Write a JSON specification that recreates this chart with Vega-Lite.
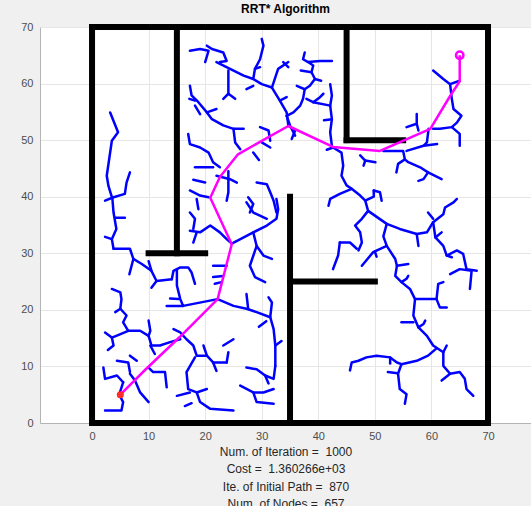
{
  "$schema": "https://vega.github.io/schema/vega-lite/v6.json",
  "width": 491,
  "height": 396,
  "autosize": {"type": "none"},
  "padding": {"left": 40, "top": 27, "right": 0, "bottom": 83},
  "background": "#f0f0f0",
  "view": {"fill": "white", "stroke": null},
  "title": {"text": "RRT* Algorithm", "fontSize": 12, "fontWeight": "bold", "font": "Liberation Sans", "color": "black", "offset": 5},
  "config": {
    "axis": {"labelFont": "Liberation Sans", "labelFontSize": 11, "labelColor": "#4d4d4d", "grid": true, "gridColor": "#e6e6e6", "domainColor": "#b4b4b4", "ticks": false, "labelPadding": 7, "titleFont": "Liberation Sans"}
  },
  "datasets": {
    "walls": [
      {"x": 0, "y": 0, "x2": 70, "y2": 0},
      {"x": 0, "y": 0, "x2": 0, "y2": 70},
      {"x": 0, "y": 70, "x2": 70, "y2": 70},
      {"x": 70, "y": 0, "x2": 70, "y2": 70},
      {"x": 15, "y": 30, "x2": 15, "y2": 70},
      {"x": 10, "y": 30, "x2": 20, "y2": 30},
      {"x": 45, "y": 50, "x2": 45, "y2": 70},
      {"x": 45, "y": 50, "x2": 55, "y2": 50},
      {"x": 35, "y": 0, "x2": 35, "y2": 40},
      {"x": 35, "y": 25, "x2": 50, "y2": 25}
    ],
    "path": [
      {"i": 0, "x": 5, "y": 5}, {"i": 1, "x": 9.5, "y": 9.5}, {"i": 2, "x": 15.5, "y": 15.2}, {"i": 3, "x": 22.2, "y": 21.9},
      {"i": 4, "x": 24.7, "y": 31.6}, {"i": 5, "x": 20.9, "y": 39.8}, {"i": 6, "x": 22.6, "y": 43.5}, {"i": 7, "x": 25.8, "y": 47.5},
      {"i": 8, "x": 34.7, "y": 52.5}, {"i": 9, "x": 42.6, "y": 48.8}, {"i": 10, "x": 50.9, "y": 48.1}, {"i": 11, "x": 59.8, "y": 52},
      {"i": 12, "x": 63.3, "y": 57.8}, {"i": 13, "x": 65, "y": 60.4}, {"i": 14, "x": 65, "y": 65}
    ],
    "ends": [
      {"x": 5, "y": 5, "kind": "start"},
      {"x": 65, "y": 65, "kind": "goal"}
    ],
    "tree": [
      {"b":1,"i":0,"x":3.2,"y":54.9},{"b":1,"i":1,"x":4.6,"y":51.4},{"b":1,"i":2,"x":3.5,"y":49.9},{"b":1,"i":3,"x":2.6,"y":43.7},{"b":1,"i":4,"x":2.9,"y":41.9},{"b":1,"i":5,"x":3.6,"y":39.6},{"b":1,"i":6,"x":3.8,"y":37.2},{"b":1,"i":7,"x":4.3,"y":34.3},{"b":1,"i":8,"x":3.5,"y":32.5},{"b":1,"i":9,"x":3.8,"y":30.8},
      {"b":2,"i":0,"x":2.3,"y":39.3},{"b":2,"i":1,"x":3.8,"y":39.9},{"b":2,"i":2,"x":5.8,"y":40.5},{"b":2,"i":3,"x":6.1,"y":42.5},{"b":2,"i":4,"x":6.7,"y":44.3},
      {"b":3,"i":0,"x":4.1,"y":36.3},{"b":3,"i":1,"x":5.8,"y":36.3},
      {"b":4,"i":0,"x":2.3,"y":32.9},{"b":4,"i":1,"x":3.5,"y":32.5},
      {"b":5,"i":0,"x":3.8,"y":30.8},{"b":5,"i":1,"x":6.7,"y":30.8},{"b":5,"i":2,"x":7.3,"y":29.0},{"b":5,"i":3,"x":8.8,"y":28.1},{"b":5,"i":4,"x":10.5,"y":26.9},{"b":5,"i":5,"x":11.4,"y":25.1},{"b":5,"i":6,"x":14.1,"y":25.4},
      {"b":6,"i":0,"x":7.3,"y":29.0},{"b":6,"i":1,"x":6.6,"y":26.3},
      {"b":7,"i":0,"x":10.5,"y":26.9},{"b":7,"i":1,"x":10.0,"y":28.6},
      {"b":8,"i":0,"x":11.4,"y":25.1},{"b":8,"i":1,"x":10.5,"y":23.9},
      {"b":9,"i":0,"x":14.1,"y":25.4},{"b":9,"i":1,"x":14.4,"y":26.9},{"b":9,"i":2,"x":15.6,"y":27.5},{"b":9,"i":3,"x":17.0,"y":27.5},{"b":9,"i":4,"x":17.6,"y":26.6},{"b":9,"i":5,"x":18.2,"y":24.6},
      {"b":10,"i":0,"x":15.0,"y":27.2},{"b":10,"i":1,"x":15.0,"y":24.3},{"b":10,"i":2,"x":15.6,"y":21.9},{"b":10,"i":3,"x":16.1,"y":20.7},{"b":10,"i":4,"x":22.2,"y":21.9},
      {"b":11,"i":0,"x":13.2,"y":20.7},{"b":11,"i":1,"x":16.1,"y":20.7},
      {"b":12,"i":0,"x":13.8,"y":22.0},{"b":12,"i":1,"x":15.3,"y":21.9},
      {"b":13,"i":0,"x":22.2,"y":21.9},{"b":13,"i":1,"x":25.0,"y":20.7},{"b":13,"i":2,"x":27.3,"y":20.2},{"b":13,"i":3,"x":29.1,"y":19.6},{"b":13,"i":4,"x":31.5,"y":18.7},{"b":13,"i":5,"x":32.1,"y":16.6},{"b":13,"i":6,"x":32.4,"y":13.7},{"b":13,"i":7,"x":32.4,"y":10.1},
      {"b":14,"i":0,"x":31.5,"y":18.7},{"b":14,"i":1,"x":31.8,"y":21.3},{"b":14,"i":2,"x":31.2,"y":22.2},
      {"b":15,"i":0,"x":27.3,"y":22.8},{"b":15,"i":1,"x":27.6,"y":20.2},
      {"b":16,"i":0,"x":29.5,"y":17.0},{"b":16,"i":1,"x":30.8,"y":18.0},
      {"b":17,"i":0,"x":32.4,"y":13.7},{"b":17,"i":1,"x":33.5,"y":14.5},
      {"b":18,"i":0,"x":17.3,"y":34.0},{"b":18,"i":1,"x":19.1,"y":33.7},{"b":18,"i":2,"x":20.9,"y":34.9},{"b":18,"i":3,"x":22.6,"y":33.7},{"b":18,"i":4,"x":23.8,"y":32.5},{"b":18,"i":5,"x":24.7,"y":31.7},
      {"b":19,"i":0,"x":17.9,"y":31.9},{"b":19,"i":1,"x":18.5,"y":33.7},
      {"b":20,"i":0,"x":24.7,"y":31.7},{"b":20,"i":1,"x":28.5,"y":33.7},{"b":20,"i":2,"x":30.9,"y":34.9},{"b":20,"i":3,"x":32.6,"y":36.1},{"b":20,"i":4,"x":32.9,"y":37.8},{"b":20,"i":5,"x":32.6,"y":39.6},
      {"b":21,"i":0,"x":28.5,"y":33.7},{"b":21,"i":1,"x":29.1,"y":31.3},{"b":21,"i":2,"x":30.3,"y":29.6},{"b":21,"i":3,"x":31.8,"y":29.0},
      {"b":22,"i":0,"x":29.1,"y":31.3},{"b":22,"i":1,"x":27.9,"y":27.8},{"b":22,"i":2,"x":28.8,"y":25.8},{"b":22,"i":3,"x":30.6,"y":24.9},
      {"b":23,"i":0,"x":27.3,"y":39.0},{"b":23,"i":1,"x":28.5,"y":37.2},{"b":23,"i":2,"x":30.9,"y":36.1},
      {"b":24,"i":0,"x":21.4,"y":27.8},{"b":24,"i":1,"x":23.8,"y":27.8},
      {"b":25,"i":0,"x":21.4,"y":25.8},{"b":25,"i":1,"x":23.2,"y":26.0},
      {"b":26,"i":0,"x":21.7,"y":24.6},{"b":26,"i":1,"x":22.9,"y":24.9},
      {"b":27,"i":0,"x":17.3,"y":37.2},{"b":27,"i":1,"x":18.2,"y":36.1},{"b":27,"i":2,"x":17.9,"y":34.3},
      {"b":28,"i":0,"x":18.5,"y":39.6},{"b":28,"i":1,"x":18.8,"y":37.8},
      {"b":29,"i":0,"x":2.0,"y":9.8},{"b":29,"i":1,"x":2.3,"y":7.8},{"b":29,"i":2,"x":4.4,"y":8.4},{"b":29,"i":3,"x":5.5,"y":7.2},
      {"b":30,"i":0,"x":4.4,"y":11.0},{"b":30,"i":1,"x":6.4,"y":10.7},{"b":30,"i":2,"x":6.7,"y":9.0},
      {"b":31,"i":0,"x":5.5,"y":7.2},{"b":31,"i":1,"x":4.8,"y":5.0},{"b":31,"i":2,"x":5.5,"y":3.7},{"b":31,"i":3,"x":5.2,"y":2.2},{"b":31,"i":4,"x":2.3,"y":2.2},
      {"b":32,"i":0,"x":6.7,"y":8.7},{"b":32,"i":1,"x":7.6,"y":7.5},{"b":32,"i":2,"x":8.5,"y":5.4},{"b":32,"i":3,"x":10.0,"y":3.7},
      {"b":33,"i":0,"x":10.0,"y":9.8},{"b":33,"i":1,"x":10.8,"y":9.0},{"b":33,"i":2,"x":12.9,"y":9.0},{"b":33,"i":3,"x":13.2,"y":6.3},
      {"b":34,"i":0,"x":6.7,"y":11.9},{"b":34,"i":1,"x":7.9,"y":11.0},
      {"b":35,"i":0,"x":10.3,"y":13.7},{"b":35,"i":1,"x":11.1,"y":12.2},
      {"b":36,"i":0,"x":3.5,"y":23.7},{"b":36,"i":1,"x":5.0,"y":23.1},{"b":36,"i":2,"x":5.2,"y":21.9},{"b":36,"i":3,"x":5.0,"y":20.2},{"b":36,"i":4,"x":4.1,"y":19.6},
      {"b":37,"i":0,"x":5.0,"y":20.2},{"b":37,"i":1,"x":6.1,"y":19.0},{"b":37,"i":2,"x":5.5,"y":17.8},{"b":37,"i":3,"x":6.4,"y":16.3},{"b":37,"i":4,"x":8.5,"y":16.3},{"b":37,"i":5,"x":10.0,"y":15.4},{"b":37,"i":6,"x":10.5,"y":13.7},{"b":37,"i":7,"x":12.0,"y":13.7},{"b":37,"i":8,"x":13.8,"y":14.3},{"b":37,"i":9,"x":15.6,"y":14.8},
      {"b":38,"i":0,"x":6.4,"y":16.3},{"b":38,"i":1,"x":4.5,"y":15.5},{"b":38,"i":2,"x":3.5,"y":15.1},{"b":38,"i":3,"x":2.3,"y":16.0},
      {"b":39,"i":0,"x":3.5,"y":15.1},{"b":39,"i":1,"x":3.8,"y":13.7},{"b":39,"i":2,"x":2.8,"y":12.9},
      {"b":40,"i":0,"x":10.0,"y":18.1},{"b":40,"i":1,"x":10.3,"y":16.3},{"b":40,"i":2,"x":10.0,"y":15.4},
      {"b":42,"i":0,"x":14.4,"y":16.6},{"b":42,"i":1,"x":15.6,"y":16.0},{"b":42,"i":2,"x":16.7,"y":14.8},{"b":42,"i":3,"x":17.9,"y":13.7},{"b":42,"i":4,"x":18.5,"y":11.9},{"b":42,"i":5,"x":20.3,"y":11.9},{"b":42,"i":6,"x":21.4,"y":10.7},{"b":42,"i":7,"x":23.8,"y":10.7},
      {"b":43,"i":0,"x":19.7,"y":13.7},{"b":43,"i":1,"x":20.3,"y":11.9},
      {"b":44,"i":0,"x":18.2,"y":11.6},{"b":44,"i":1,"x":16.7,"y":9.0},{"b":44,"i":2,"x":17.0,"y":6.0},{"b":44,"i":3,"x":18.5,"y":5.4},{"b":44,"i":4,"x":20.3,"y":6.0},
      {"b":45,"i":0,"x":15.0,"y":4.8},{"b":45,"i":1,"x":17.3,"y":5.4},
      {"b":46,"i":0,"x":18.5,"y":5.4},{"b":46,"i":1,"x":19.1,"y":3.7},{"b":46,"i":2,"x":20.9,"y":2.5},{"b":46,"i":3,"x":25.0,"y":2.2},
      {"b":47,"i":0,"x":16.4,"y":3.0},{"b":47,"i":1,"x":17.6,"y":3.5},
      {"b":48,"i":0,"x":23.2,"y":13.7},{"b":48,"i":1,"x":25.0,"y":14.8},
      {"b":49,"i":0,"x":23.8,"y":10.7},{"b":49,"i":1,"x":24.1,"y":12.5},
      {"b":50,"i":0,"x":21.4,"y":10.7},{"b":50,"i":1,"x":22.0,"y":9.2},
      {"b":51,"i":0,"x":27.3,"y":9.8},{"b":51,"i":1,"x":29.1,"y":9.5},{"b":51,"i":2,"x":30.6,"y":8.4},{"b":51,"i":3,"x":32.1,"y":7.8},{"b":51,"i":4,"x":32.4,"y":10.1},
      {"b":52,"i":0,"x":26.2,"y":6.6},{"b":52,"i":1,"x":28.5,"y":5.4},{"b":52,"i":2,"x":30.3,"y":5.4},{"b":52,"i":3,"x":32.1,"y":6.0},
      {"b":53,"i":0,"x":28.5,"y":5.4},{"b":53,"i":1,"x":29.1,"y":3.7},{"b":53,"i":2,"x":32.1,"y":3.4},
      {"b":54,"i":0,"x":30.6,"y":8.4},{"b":54,"i":1,"x":31.2,"y":7.0},
      {"b":60,"i":0,"x":17.3,"y":65.8},{"b":60,"i":1,"x":19.1,"y":66.1},{"b":60,"i":2,"x":20.6,"y":65.8},{"b":60,"i":3,"x":20.0,"y":63.8},
      {"b":61,"i":0,"x":20.3,"y":66.7},{"b":61,"i":1,"x":21.2,"y":66.1},{"b":61,"i":2,"x":23.2,"y":65.5},{"b":61,"i":3,"x":23.8,"y":64.0},{"b":61,"i":4,"x":22.6,"y":63.8},
      {"b":62,"i":0,"x":22.0,"y":63.8},{"b":62,"i":1,"x":24.4,"y":62.6},{"b":62,"i":2,"x":26.8,"y":61.4},{"b":62,"i":3,"x":28.5,"y":60.8},{"b":62,"i":4,"x":30.0,"y":59.9},{"b":62,"i":5,"x":31.8,"y":59.3},{"b":62,"i":6,"x":33.2,"y":57.0},{"b":62,"i":7,"x":34.4,"y":54.9},{"b":62,"i":8,"x":34.7,"y":52.6},
      {"b":63,"i":0,"x":24.1,"y":62.3},{"b":63,"i":1,"x":24.1,"y":58.2},{"b":63,"i":2,"x":23.2,"y":57.3},
      {"b":64,"i":0,"x":24.1,"y":58.2},{"b":64,"i":1,"x":25.3,"y":57.3},
      {"b":65,"i":0,"x":28.5,"y":60.8},{"b":65,"i":1,"x":28.8,"y":62.6},{"b":65,"i":2,"x":29.7,"y":64.3},{"b":65,"i":3,"x":30.3,"y":66.7},{"b":65,"i":4,"x":30.0,"y":67.9},
      {"b":66,"i":0,"x":27.3,"y":59.0},{"b":66,"i":1,"x":28.5,"y":59.6},
      {"b":67,"i":0,"x":31.8,"y":59.3},{"b":67,"i":1,"x":32.6,"y":61.7},{"b":67,"i":2,"x":32.9,"y":62.6},{"b":67,"i":3,"x":34.7,"y":63.8},
      {"b":68,"i":0,"x":33.2,"y":57.0},{"b":68,"i":1,"x":34.4,"y":57.6},
      {"b":69,"i":0,"x":28.8,"y":62.6},{"b":69,"i":1,"x":29.7,"y":62.9},
      {"b":70,"i":0,"x":17.3,"y":59.6},{"b":70,"i":1,"x":17.6,"y":57.9},{"b":70,"i":2,"x":18.8,"y":56.7},{"b":70,"i":3,"x":20.3,"y":54.9},{"b":70,"i":4,"x":21.2,"y":53.7},{"b":70,"i":5,"x":23.2,"y":52.6},{"b":70,"i":6,"x":25.0,"y":52.0},{"b":70,"i":7,"x":26.8,"y":52.0},
      {"b":71,"i":0,"x":18.2,"y":56.1},{"b":71,"i":1,"x":19.1,"y":54.6},
      {"b":72,"i":0,"x":17.2,"y":57.3},{"b":72,"i":1,"x":18.2,"y":57.0},
      {"b":73,"i":0,"x":20.3,"y":54.9},{"b":73,"i":1,"x":22.0,"y":55.5},
      {"b":74,"i":0,"x":25.0,"y":52.0},{"b":74,"i":1,"x":25.3,"y":49.6},{"b":74,"i":2,"x":26.2,"y":48.4},
      {"b":75,"i":0,"x":17.0,"y":51.1},{"b":75,"i":1,"x":17.3,"y":49.3},{"b":75,"i":2,"x":19.1,"y":48.7},{"b":75,"i":3,"x":20.6,"y":47.8},{"b":75,"i":4,"x":21.4,"y":46.1},{"b":75,"i":5,"x":22.6,"y":45.2},
      {"b":76,"i":0,"x":18.2,"y":45.2},{"b":76,"i":1,"x":21.4,"y":45.2},
      {"b":77,"i":0,"x":17.3,"y":41.1},{"b":77,"i":1,"x":19.1,"y":40.2},{"b":77,"i":2,"x":20.6,"y":39.9},
      {"b":78,"i":0,"x":22.0,"y":43.7},{"b":78,"i":1,"x":24.4,"y":43.1},{"b":78,"i":2,"x":25.6,"y":42.5},
      {"b":79,"i":0,"x":24.1,"y":44.5},{"b":79,"i":1,"x":24.1,"y":40.8},{"b":79,"i":2,"x":23.8,"y":39.3},
      {"b":80,"i":0,"x":29.1,"y":42.5},{"b":80,"i":1,"x":30.9,"y":42.2},{"b":80,"i":2,"x":31.5,"y":40.8},{"b":80,"i":3,"x":32.1,"y":39.3},{"b":80,"i":4,"x":32.6,"y":37.2},
      {"b":81,"i":0,"x":27.6,"y":39.9},{"b":81,"i":1,"x":28.5,"y":38.7},{"b":81,"i":2,"x":27.9,"y":37.2},
      {"b":82,"i":0,"x":29.7,"y":52.3},{"b":82,"i":1,"x":31.2,"y":51.7},{"b":82,"i":2,"x":31.5,"y":49.9},
      {"b":83,"i":0,"x":30.0,"y":49.6},{"b":83,"i":1,"x":31.5,"y":48.7},
      {"b":84,"i":0,"x":34.7,"y":52.6},{"b":84,"i":1,"x":35.9,"y":51.7},{"b":84,"i":2,"x":35.3,"y":50.2},
      {"b":85,"i":0,"x":28.5,"y":47.8},{"b":85,"i":1,"x":29.5,"y":46.5},
      {"b":87,"i":0,"x":17.9,"y":43.0},{"b":87,"i":1,"x":20.0,"y":42.5},
      {"b":90,"i":0,"x":37.6,"y":65.5},{"b":90,"i":1,"x":37.3,"y":64.3},{"b":90,"i":2,"x":38.2,"y":63.8},{"b":90,"i":3,"x":39.1,"y":63.2},{"b":90,"i":4,"x":38.8,"y":62.0},{"b":90,"i":5,"x":39.4,"y":60.8},{"b":90,"i":6,"x":38.5,"y":59.6},{"b":90,"i":7,"x":37.6,"y":59.0},{"b":90,"i":8,"x":37.3,"y":57.3},{"b":90,"i":9,"x":36.8,"y":56.1},{"b":90,"i":10,"x":35.6,"y":54.9},{"b":90,"i":11,"x":34.4,"y":54.3},
      {"b":91,"i":0,"x":38.2,"y":63.8},{"b":91,"i":1,"x":40.3,"y":64.0},{"b":91,"i":2,"x":42.4,"y":64.0},
      {"b":92,"i":0,"x":36.9,"y":62.3},{"b":92,"i":1,"x":38.8,"y":62.0},
      {"b":93,"i":0,"x":39.4,"y":60.8},{"b":93,"i":1,"x":40.5,"y":60.5},
      {"b":94,"i":0,"x":36.2,"y":59.6},{"b":94,"i":1,"x":37.6,"y":59.0},
      {"b":95,"i":0,"x":37.9,"y":57.3},{"b":95,"i":1,"x":39.1,"y":56.7},{"b":95,"i":2,"x":42.1,"y":56.1},
      {"b":96,"i":0,"x":39.1,"y":56.7},{"b":96,"i":1,"x":40.3,"y":57.6},{"b":96,"i":2,"x":40.9,"y":58.2},
      {"b":97,"i":0,"x":42.1,"y":59.9},{"b":97,"i":1,"x":42.4,"y":57.9},{"b":97,"i":2,"x":42.1,"y":56.1},{"b":97,"i":3,"x":42.4,"y":53.7},{"b":97,"i":4,"x":42.1,"y":51.4},{"b":97,"i":5,"x":42.4,"y":49.0},
      {"b":98,"i":0,"x":34.4,"y":54.3},{"b":98,"i":1,"x":35.0,"y":52.6},{"b":98,"i":2,"x":35.9,"y":50.8},
      {"b":99,"i":0,"x":33.8,"y":63.8},{"b":99,"i":1,"x":34.7,"y":62.9},
      {"b":101,"i":0,"x":41.0,"y":53.5},{"b":101,"i":1,"x":42.4,"y":53.7},
      {"b":102,"i":0,"x":42.6,"y":48.7},{"b":102,"i":1,"x":44.1,"y":47.8},{"b":102,"i":2,"x":44.4,"y":45.5},{"b":102,"i":3,"x":44.1,"y":43.7},{"b":102,"i":4,"x":45.0,"y":42.0},{"b":102,"i":5,"x":45.9,"y":41.4},{"b":102,"i":6,"x":47.4,"y":40.2},{"b":102,"i":7,"x":48.3,"y":39.3},{"b":102,"i":8,"x":48.8,"y":37.5},{"b":102,"i":9,"x":47.7,"y":36.1},{"b":102,"i":10,"x":46.5,"y":34.9},{"b":102,"i":11,"x":47.4,"y":33.7},{"b":102,"i":12,"x":47.7,"y":31.9},{"b":102,"i":13,"x":47.1,"y":30.5},
      {"b":103,"i":0,"x":45.9,"y":41.4},{"b":103,"i":1,"x":43.8,"y":40.5},{"b":103,"i":2,"x":42.1,"y":39.6},{"b":103,"i":3,"x":41.8,"y":38.4},
      {"b":104,"i":0,"x":47.4,"y":47.3},{"b":104,"i":1,"x":48.3,"y":46.4},{"b":104,"i":2,"x":50.1,"y":46.1},
      {"b":105,"i":0,"x":48.3,"y":46.4},{"b":105,"i":1,"x":48.0,"y":45.5},
      {"b":106,"i":0,"x":49.8,"y":41.1},{"b":106,"i":1,"x":50.9,"y":40.8},{"b":106,"i":2,"x":51.2,"y":39.3},
      {"b":107,"i":0,"x":48.3,"y":39.3},{"b":107,"i":1,"x":49.8,"y":40.0},{"b":107,"i":2,"x":49.8,"y":41.1},
      {"b":108,"i":0,"x":41.5,"y":48.3},{"b":108,"i":1,"x":42.6,"y":48.7},
      {"b":110,"i":0,"x":51.5,"y":48.1},{"b":110,"i":1,"x":55.0,"y":48.1},{"b":110,"i":2,"x":55.3,"y":46.6},{"b":110,"i":3,"x":55.9,"y":46.1},{"b":110,"i":4,"x":58.0,"y":45.2},{"b":110,"i":5,"x":59.4,"y":44.3},{"b":110,"i":6,"x":61.8,"y":43.1},
      {"b":111,"i":0,"x":55.3,"y":46.6},{"b":111,"i":1,"x":54.1,"y":45.8},{"b":111,"i":2,"x":53.8,"y":44.3},
      {"b":112,"i":0,"x":59.4,"y":44.3},{"b":112,"i":1,"x":58.6,"y":43.1},{"b":112,"i":2,"x":57.7,"y":42.8},
      {"b":113,"i":0,"x":55.6,"y":48.1},{"b":113,"i":1,"x":58.6,"y":49.0},{"b":113,"i":2,"x":59.2,"y":49.6},{"b":113,"i":3,"x":59.5,"y":52.0},
      {"b":114,"i":0,"x":58.6,"y":49.0},{"b":114,"i":1,"x":61.0,"y":49.3},
      {"b":115,"i":0,"x":57.4,"y":54.6},{"b":115,"i":1,"x":57.4,"y":52.9},{"b":115,"i":2,"x":55.6,"y":52.3},
      {"b":116,"i":0,"x":57.4,"y":52.9},{"b":116,"i":1,"x":57.7,"y":51.7},
      {"b":118,"i":0,"x":60.3,"y":62.3},{"b":118,"i":1,"x":62.1,"y":60.8},{"b":118,"i":2,"x":63.3,"y":59.9},{"b":118,"i":3,"x":65.0,"y":60.5},
      {"b":119,"i":0,"x":63.3,"y":59.9},{"b":119,"i":1,"x":63.6,"y":57.3},{"b":119,"i":2,"x":63.9,"y":55.5},{"b":119,"i":3,"x":65.3,"y":54.3},{"b":119,"i":4,"x":64.5,"y":53.1},{"b":119,"i":5,"x":63.6,"y":52.3},{"b":119,"i":6,"x":61.5,"y":52.0},{"b":119,"i":7,"x":60.3,"y":52.0},
      {"b":120,"i":0,"x":63.6,"y":52.3},{"b":120,"i":1,"x":65.0,"y":51.1},{"b":120,"i":2,"x":65.0,"y":49.0},
      {"b":130,"i":0,"x":48.8,"y":37.5},{"b":130,"i":1,"x":52.1,"y":35.2},{"b":130,"i":2,"x":54.4,"y":34.3},{"b":130,"i":3,"x":57.4,"y":33.4},{"b":130,"i":4,"x":59.2,"y":33.7},{"b":130,"i":5,"x":60.3,"y":35.5},{"b":130,"i":6,"x":62.1,"y":36.9},{"b":130,"i":7,"x":62.4,"y":38.1},{"b":130,"i":8,"x":63.9,"y":39.0},{"b":130,"i":9,"x":64.5,"y":39.6},
      {"b":131,"i":0,"x":57.4,"y":33.4},{"b":131,"i":1,"x":57.7,"y":31.3},
      {"b":132,"i":0,"x":59.4,"y":37.2},{"b":132,"i":1,"x":60.3,"y":36.1},
      {"b":133,"i":0,"x":60.3,"y":35.5},{"b":133,"i":1,"x":60.7,"y":32.8},{"b":133,"i":2,"x":62.1,"y":31.3},{"b":133,"i":3,"x":62.7,"y":29.6},{"b":133,"i":4,"x":63.6,"y":29.3},
      {"b":134,"i":0,"x":60.7,"y":32.8},{"b":134,"i":1,"x":61.8,"y":33.7},
      {"b":135,"i":0,"x":62.7,"y":29.6},{"b":135,"i":1,"x":64.5,"y":30.5},{"b":135,"i":2,"x":65.6,"y":29.9},{"b":135,"i":3,"x":66.2,"y":27.2},{"b":135,"i":4,"x":68.0,"y":26.9},
      {"b":136,"i":0,"x":63.3,"y":26.3},{"b":136,"i":1,"x":65.0,"y":27.2},{"b":136,"i":2,"x":67.1,"y":26.9},{"b":136,"i":3,"x":66.8,"y":23.7},
      {"b":137,"i":0,"x":43.8,"y":31.9},{"b":137,"i":1,"x":45.6,"y":31.9},{"b":137,"i":2,"x":46.8,"y":30.8},
      {"b":138,"i":0,"x":43.8,"y":31.9},{"b":138,"i":1,"x":43.5,"y":29.6},{"b":138,"i":2,"x":42.6,"y":27.2},
      {"b":139,"i":0,"x":52.1,"y":35.2},{"b":139,"i":1,"x":51.5,"y":33.0},{"b":139,"i":2,"x":52.1,"y":31.3},{"b":139,"i":3,"x":53.6,"y":29.0},{"b":139,"i":4,"x":53.9,"y":27.8},{"b":139,"i":5,"x":55.9,"y":28.1},
      {"b":140,"i":0,"x":52.1,"y":31.3},{"b":140,"i":1,"x":49.7,"y":30.2},{"b":140,"i":2,"x":47.7,"y":27.8},
      {"b":141,"i":0,"x":50.0,"y":30.3},{"b":141,"i":1,"x":50.3,"y":29.4},
      {"b":142,"i":0,"x":53.9,"y":27.8},{"b":142,"i":1,"x":53.6,"y":26.0},{"b":142,"i":2,"x":54.7,"y":24.9},{"b":142,"i":3,"x":55.6,"y":25.5},{"b":142,"i":4,"x":55.9,"y":26.0},
      {"b":143,"i":0,"x":54.7,"y":24.9},{"b":143,"i":1,"x":56.2,"y":23.7},{"b":143,"i":2,"x":57.1,"y":21.9},{"b":143,"i":3,"x":60.9,"y":21.9},{"b":143,"i":4,"x":61.2,"y":24.6},{"b":143,"i":5,"x":62.1,"y":24.9},
      {"b":144,"i":0,"x":60.9,"y":21.9},{"b":144,"i":1,"x":61.5,"y":20.4},{"b":144,"i":2,"x":62.7,"y":20.4},
      {"b":145,"i":0,"x":57.1,"y":21.9},{"b":145,"i":1,"x":56.8,"y":19.0},{"b":145,"i":2,"x":57.7,"y":16.9},{"b":145,"i":3,"x":59.2,"y":15.4},{"b":145,"i":4,"x":60.3,"y":13.7},{"b":145,"i":5,"x":62.1,"y":12.5},{"b":145,"i":6,"x":62.7,"y":13.7},
      {"b":146,"i":0,"x":54.7,"y":17.8},{"b":146,"i":1,"x":56.8,"y":17.8},
      {"b":147,"i":0,"x":57.7,"y":16.9},{"b":147,"i":1,"x":58.6,"y":17.5},{"b":147,"i":2,"x":58.9,"y":18.1},
      {"b":148,"i":0,"x":62.1,"y":12.5},{"b":148,"i":1,"x":62.1,"y":10.1},{"b":148,"i":2,"x":63.3,"y":8.7},{"b":148,"i":3,"x":65.0,"y":9.0},{"b":148,"i":4,"x":65.9,"y":7.8},{"b":148,"i":5,"x":66.2,"y":6.0},{"b":148,"i":6,"x":67.4,"y":4.8},
      {"b":149,"i":0,"x":63.3,"y":8.7},{"b":149,"i":1,"x":61.8,"y":7.5},
      {"b":150,"i":0,"x":60.9,"y":13.2},{"b":150,"i":1,"x":59.4,"y":11.9},{"b":150,"i":2,"x":57.4,"y":11.0},{"b":150,"i":3,"x":54.7,"y":10.4},{"b":150,"i":4,"x":53.9,"y":10.7},{"b":150,"i":5,"x":52.7,"y":11.6},{"b":150,"i":6,"x":50.3,"y":11.9},{"b":150,"i":7,"x":48.5,"y":11.6},{"b":150,"i":8,"x":47.1,"y":11.0},{"b":150,"i":9,"x":45.9,"y":10.7},{"b":150,"i":10,"x":45.6,"y":9.3},
      {"b":151,"i":0,"x":54.7,"y":10.4},{"b":151,"i":1,"x":54.1,"y":8.7},{"b":151,"i":2,"x":54.4,"y":6.0},{"b":151,"i":3,"x":55.6,"y":5.1},{"b":151,"i":4,"x":55.3,"y":3.4},
      {"b":152,"i":0,"x":52.3,"y":9.0},{"b":152,"i":1,"x":54.0,"y":8.8},
      {"b":153,"i":0,"x":52.7,"y":11.6},{"b":153,"i":1,"x":52.7,"y":10.5}
    ]
  },
  "encoding": {
    "x": {"field": "x", "type": "quantitative", "scale": {"domain": [-9.2, 77.6], "nice": false, "zero": false},
          "axis": {"values": [0, 10, 20, 30, 40, 50, 60, 70], "titlePadding": 5, "titleFontSize": 12, "titleFontWeight": "normal", "titleColor": "#262626", "titleLineHeight": 17.5,
                   "title": ["Num. of Iteration =\u00a0 1000", "Cost =\u00a0 1.360266e+03", "Ite. of Initial Path =\u00a0 870", "Num. of Nodes =\u00a0 657"]}},
    "y": {"field": "y", "type": "quantitative", "scale": {"domain": [0, 70], "nice": false, "zero": false},
          "axis": {"values": [0, 10, 20, 30, 40, 50, 60, 70], "title": null}}
  },
  "layer": [
    {
      "data": {"name": "walls"},
      "mark": {"type": "rule", "color": "black", "strokeWidth": 6, "strokeCap": "square"},
      "encoding": {"x2": {"field": "x2"}, "y2": {"field": "y2"}}
    },
    {
      "data": {"name": "tree"},
      "mark": {"type": "line", "color": "#0000ff", "strokeWidth": 2.5, "strokeCap": "round", "strokeJoin": "round"},
      "encoding": {"detail": {"field": "b"}, "order": {"field": "i", "type": "quantitative"}}
    },
    {
      "data": {"name": "path"},
      "mark": {"type": "line", "color": "#ff00ff", "strokeWidth": 2.5, "strokeJoin": "round"},
      "encoding": {"order": {"field": "i", "type": "quantitative"}}
    },
    {
      "data": {"name": "ends"},
      "transform": [{"filter": "datum.kind == 'start'"}],
      "mark": {"type": "point", "shape": "circle", "filled": true, "color": "#ff2a2a", "size": 50, "opacity": 1}
    },
    {
      "data": {"name": "ends"},
      "transform": [{"filter": "datum.kind == 'goal'"}],
      "mark": {"type": "point", "shape": "circle", "filled": false, "color": "#ff00ff", "size": 55, "strokeWidth": 2.5, "opacity": 1}
    }
  ]
}
